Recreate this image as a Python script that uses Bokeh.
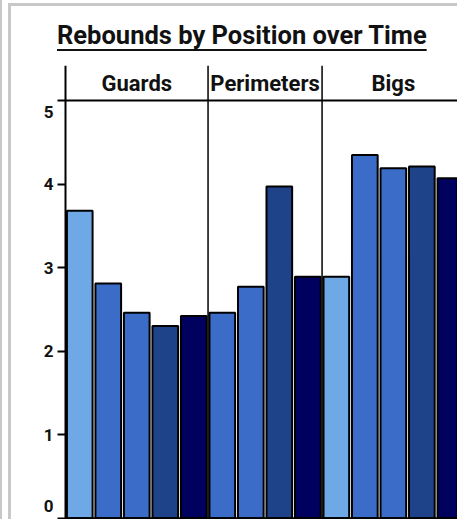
from bokeh.plotting import figure
from bokeh.models import Range1d, FixedTicker, Span, Label, LabelSet, ColumnDataSource, Div, LinearAxis
from bokeh.layouts import column
from bokeh.core.properties import value
from bokeh.embed import file_html
from bokeh.resources import INLINE

# ---- data ----
groups = ["Guards", "Perimeters", "Bigs"]
seasons = ["Season 1", "Season 2", "Season 3", "Season 4", "Season 5"]
season_colors = ["#6ea9e6", "#3b6dc8", "#3b6dc8", "#1f4389", "#00005f"]
guards = [3.68, 2.81, 2.46, 2.30, 2.42]
perimeters = [None, 2.46, 2.77, 3.97, 2.89]
bigs = [2.89, 4.35, 4.19, 4.21, 4.07]
y_ticks = [0, 1, 2, 3, 4, 5]
title_text = "Rebounds by Position over Time"

FONT = "Roboto"

# ---- build bar table from the series ----
xs, tops, colors, names = [], [], [], []
group_starts, group_centers = [], []
slot = 0
for g, vals in zip(groups, [guards, perimeters, bigs]):
    start = slot
    for s, v in enumerate(vals):
        if v is None:
            continue
        xs.append(slot + 0.5)
        tops.append(v)
        colors.append(season_colors[s])
        names.append(seasons[s])
        slot += 1
    group_starts.append(start)
    group_centers.append((start + slot) / 2)

bars = ColumnDataSource(dict(x=xs, top=tops, color=colors, season=names))

p = figure(width=446, height=463, output_backend="svg", toolbar_location=None,
           x_range=Range1d(-1.894, slot - 0.25), y_range=Range1d(-0.015, 5.42),
           x_axis_type=None, y_axis_type=None, min_border_left=0, min_border_top=9,
           min_border_right=0, min_border_bottom=0, margin=0)
p.grid.visible = False
p.outline_line_color = None
p.background_fill_color = "white"
p.border_fill_color = "white"

p.vbar(x="x", top="top", bottom=0, width=0.9, source=bars,
       fill_color="color", line_color="black", line_width=2)

# baseline and top rule, from the axis to the right
p.segment(x0=[0, 0], x1=[slot, slot], y0=[y_ticks[0], y_ticks[-1]], y1=[y_ticks[0], y_ticks[-1]],
          line_color="black", line_width=2)

ax = LinearAxis(fixed_location=0, ticker=FixedTicker(ticks=y_ticks))
ax.major_tick_in = 0
ax.major_tick_out = 8
ax.minor_tick_line_color = None
ax.axis_line_width = 2
ax.axis_line_color = "black"
ax.major_tick_line_width = 2
ax.major_tick_line_color = "black"
ax.major_label_standoff = 4
ax.major_label_text_font = FONT
ax.major_label_text_font_style = "bold"
ax.major_label_text_font_size = "17px"
ax.major_label_text_color = "#111111"
ax.major_label_overrides = {y_ticks[0]: "", y_ticks[-1]: ""}
p.add_layout(ax, "left")

for gs in group_starts[1:]:
    p.add_layout(Span(location=gs, dimension="height", line_color="black", line_width=1.5))

# end tick labels nudged inward
p.add_layout(Label(x=0, y=y_ticks[-1], text=str(y_ticks[-1]), x_offset=-12, y_offset=-11,
                   text_align="right", text_baseline="middle", text_font=FONT,
                   text_font_style="bold", text_font_size="17px", text_color="#111111"))
p.add_layout(Label(x=0, y=y_ticks[0], text=str(y_ticks[0]), x_offset=-12, y_offset=12,
                   text_align="right", text_baseline="middle", text_font=FONT,
                   text_font_style="bold", text_font_size="17px", text_color="#111111"))

glabels = ColumnDataSource(dict(x=group_centers, y=[y_ticks[-1]] * len(groups), text=groups))
p.add_layout(LabelSet(x="x", y="y", text="text", source=glabels, y_offset=10,
                      text_align="center", text_baseline="alphabetic", text_font=value(FONT),
                      text_font_style=value("bold"), text_font_size=value("22px"),
                      text_color="#111111"))

title_div = Div(
    text=('<div style="font-family: Roboto; font-weight: bold; font-size: 25.5px; color: #111; '
          'padding-left: 46px; padding-top: 15px; white-space: nowrap; line-height: 29px;">'
          '<span style="text-decoration: underline; text-underline-offset: 5px; '
          'text-decoration-thickness: 2px;">' + title_text + '</span></div>'),
    width=446, height=50, margin=0)

inner = column(title_div, p, spacing=0, margin=(3, 0, 0, 6),
               styles={"border-left": "3px solid #c8c8c8",
                       "border-top": "3px solid #c8c8c8"})
outer = column(inner, spacing=0, margin=0,
               styles={"border-left": "2px solid #c8c8c8"})

open("out.html", "w").write(file_html(outer, INLINE))
